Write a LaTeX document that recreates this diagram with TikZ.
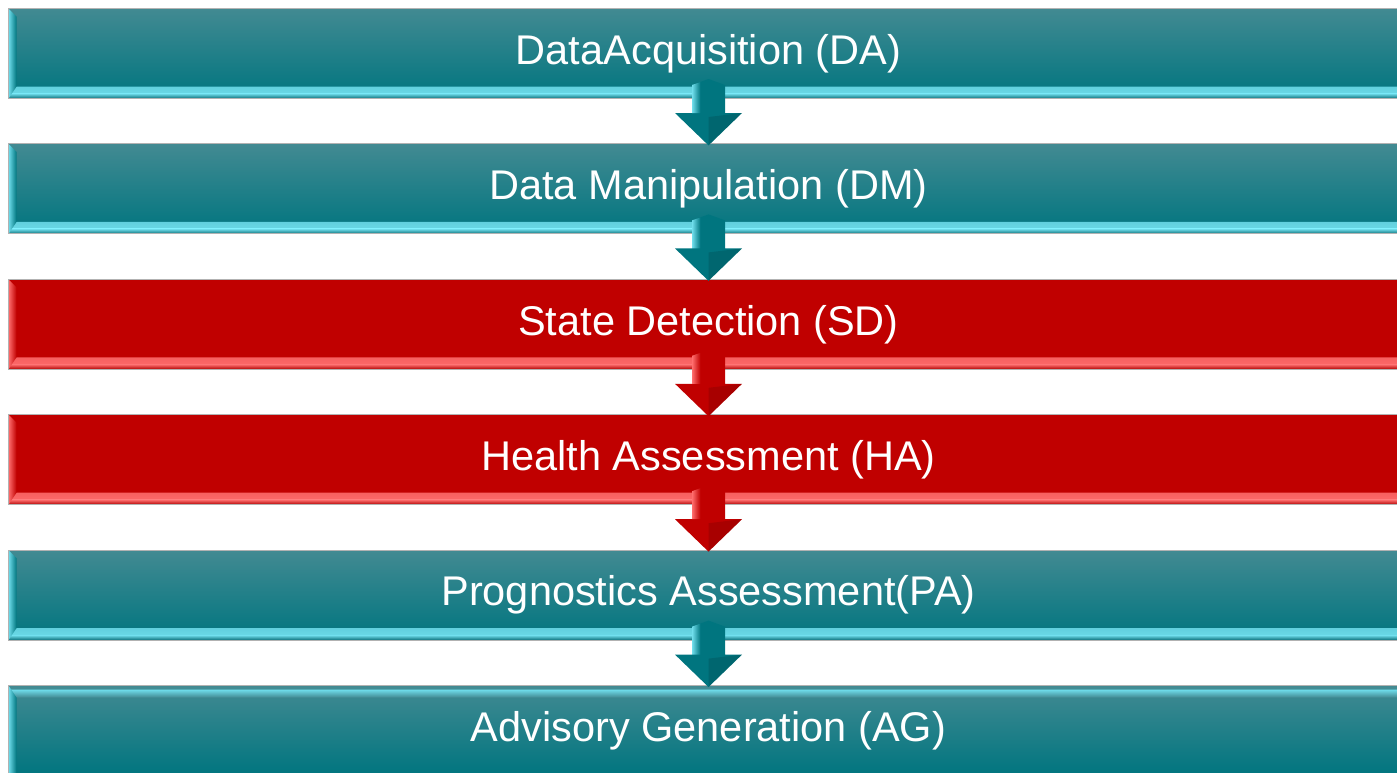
\documentclass[tikz,border=0pt]{standalone}
\usepackage{fontspec}
\setmainfont{Liberation Sans}
\usetikzlibrary{positioning,calc}

\definecolor{tealtop}{RGB}{66,138,146}
\definecolor{tealmain}{RGB}{0,117,127}
\definecolor{tealhi}{RGB}{112,222,236}
\definecolor{tealdk}{RGB}{10,110,120}
\definecolor{redtop}{RGB}{192,0,0}
\definecolor{redmain}{RGB}{192,0,0}
\definecolor{redhi}{RGB}{255,110,110}
\definecolor{reddk}{RGB}{175,0,0}

% bevel along left and bottom edge of a stage bar
\newcommand\lowbevel[1]{%
  \shade[top color=#1main, bottom color=#1hi]
    ([shift={(4pt,6pt)}]path picture bounding box.south west) -- ([yshift=6pt]path picture bounding box.south east)
    -- ([yshift=2.5pt]path picture bounding box.south east) -- ([yshift=2.5pt]path picture bounding box.south west) -- cycle;
  \shade[top color=#1hi, bottom color=#1dk]
    ([yshift=2.5pt]path picture bounding box.south west) -- ([yshift=2.5pt]path picture bounding box.south east)
    -- (path picture bounding box.south east) -- (path picture bounding box.south west) -- cycle;
  \shade[left color=#1hi, right color=#1main]
    (path picture bounding box.south west) -- (path picture bounding box.north west)
    -- ([shift={(4pt,-4pt)}]path picture bounding box.north west) -- ([shift={(4pt,6pt)}]path picture bounding box.south west) -- cycle;
}
% bevel along left and top edge (last bar)
\newcommand\highbevel[1]{%
  \shade[top color=#1top, bottom color=#1hi]
    (path picture bounding box.north west) -- (path picture bounding box.north east)
    -- ([yshift=-2pt]path picture bounding box.north east) -- ([yshift=-2pt]path picture bounding box.north west) -- cycle;
  \shade[top color=#1hi, bottom color=#1top]
    ([yshift=-2pt]path picture bounding box.north west) -- ([yshift=-2pt]path picture bounding box.north east)
    -- ([yshift=-6pt]path picture bounding box.north east) -- ([shift={(4pt,-6pt)}]path picture bounding box.north west) -- cycle;
  \shade[left color=#1hi, right color=#1main]
    (path picture bounding box.north west) -- ([shift={(4pt,-6pt)}]path picture bounding box.north west)
    -- ([xshift=4pt]path picture bounding box.south west) -- (path picture bounding box.south west) -- cycle;
}
% block arrow from one stage to the next
\newcommand\stagearrow[3]{%
  \fill[#3main] ($(#1.south)+(-8.25pt,7pt)$) -- ($(#1.south)+(0,10pt)$) -- ($(#1.south)+(8.25pt,7pt)$)
    -- ($(#1.south)+(8.25pt,-7pt)$) -- ($(#1.south)+(16.75pt,-7pt)$) -- ($(#2.north)+(0,-1pt)$)
    -- ($(#1.south)+(-16.75pt,-7pt)$) -- ($(#1.south)+(-8.25pt,-7pt)$) -- cycle;
  \fill[black, opacity=.12] ($(#1.south)+(0,-9pt)$) -- ($(#1.south)+(16.75pt,-7pt)$) -- ($(#2.north)+(0,-1pt)$) -- cycle;
  \shade[left color=#3hi, right color=#3main] ($(#1.south)+(-8.25pt,7pt)$) -- ($(#1.south)+(-4pt,8.5pt)$)
    -- ($(#1.south)+(-4pt,-7pt)$) -- ($(#1.south)+(-8.25pt,-7pt)$) -- cycle;
}

\tikzset{
  stage/.style={minimum width=700pt, minimum height=45pt, inner sep=0pt, draw=black!30, line width=0.5pt,
    text=white, font=\fontsize{20.75}{24}\selectfont, top color=#1top, bottom color=#1main,
    path picture={\lowbevel{#1}}},
  stagetop/.style={stage=#1, path picture={\highbevel{#1}}},
}

\begin{document}
\begin{tikzpicture}[x=0.5pt, y=-0.5pt, node distance=22.2pt]
  \useasboundingbox (0,0) rectangle (1397,772);
  \clip (0,0) rectangle (1397,772);

  \node[stage=teal, anchor=north west] (da) at (8,8) {DataAcquisition (DA)};
  \node[stage=teal, below=of da] (dm) {Data Manipulation (DM)};
  \node[stage=red, below=of dm] (sd) {State Detection (SD)};
  \node[stage=red, below=of sd] (ha) {Health Assessment (HA)};
  \node[stage=teal, below=of ha] (pa) {Prognostics Assessment(PA)};
  \node[stagetop=teal, below=of pa] (ag) {Advisory Generation (AG)};

  \stagearrow{da}{dm}{teal}
  \stagearrow{dm}{sd}{teal}
  \stagearrow{sd}{ha}{red}
  \stagearrow{ha}{pa}{red}
  \stagearrow{pa}{ag}{teal}
\end{tikzpicture}
\end{document}
